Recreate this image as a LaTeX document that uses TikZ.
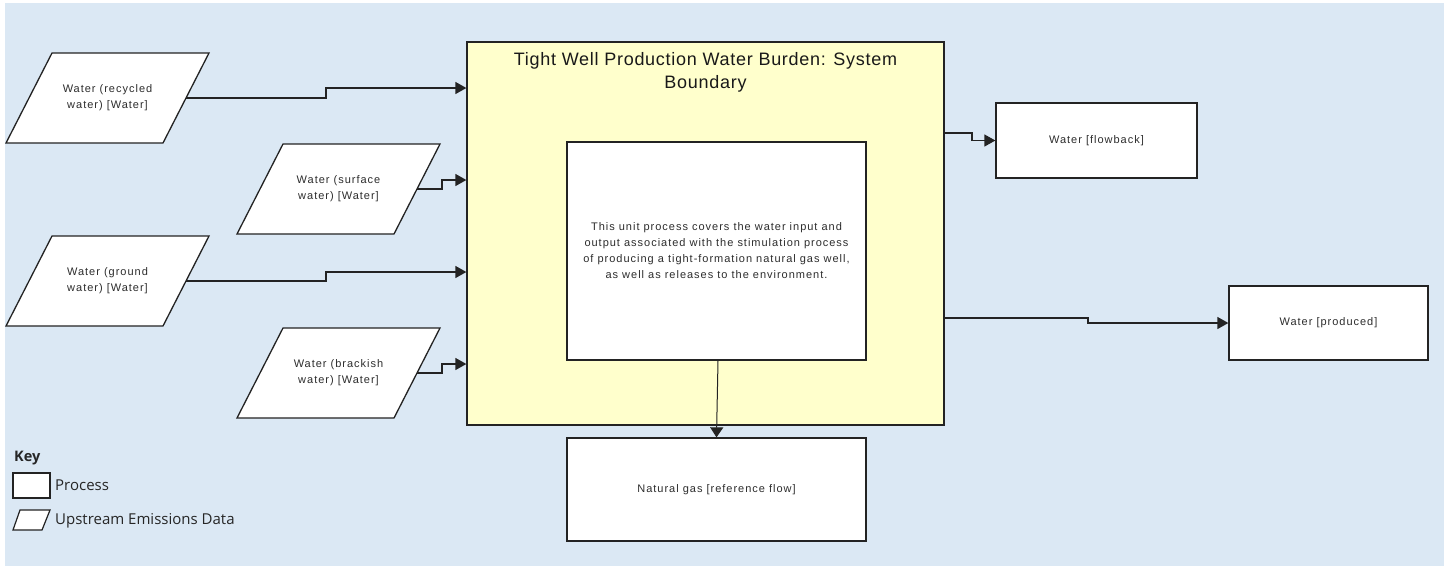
\documentclass[tikz,border=0pt]{standalone}
\usepackage{fontspec}
\setmainfont{Liberation Sans}
\newfontfamily\nodefont[LetterSpace=9]{Liberation Sans}
\newfontfamily\titlefont[LetterSpace=4]{Liberation Sans}
\newfontfamily\keyfont{Open Sans}
\usetikzlibrary{arrows.meta}
\definecolor{bgblue}{RGB}{219,232,244}
\definecolor{sysyellow}{RGB}{255,255,204}
\definecolor{edgegray}{RGB}{35,35,35}
\definecolor{txtgray}{RGB}{45,45,45}
\tikzset{
  shapeline/.style={draw=edgegray, line width=1.3pt, fill=white, line join=miter},
  pics/datashape/.style={code={\path[shapeline] (-55.5,-45) -- (101.5,-45) -- (55.5,45) -- (-101.5,45) -- cycle;}},
  datatext/.style={rectangle, minimum width=157pt, minimum height=90pt, inner sep=0pt,
    text=txtgray, align=center, font=\nodefont\fontsize{11}{16}\selectfont},
  procbox/.style={rectangle, draw=edgegray, line width=1.3pt, fill=white, inner sep=0pt,
    text=txtgray, align=center, font=\nodefont\fontsize{11}{16}\selectfont},
  flow/.style={draw=edgegray, line width=1.3pt, -{Triangle[length=11pt,width=12pt]}},
  thinflow/.style={draw=edgegray, line width=1pt, -{Triangle[length=10pt,width=13pt]}},
  keytext/.style={anchor=west, inner sep=0pt, font=\keyfont\fontsize{15}{18}\selectfont, text=black!85},
}
\begin{document}
\begin{tikzpicture}[x=1pt,y=-1pt]
\useasboundingbox (0,0) rectangle (1449,566);
\fill[bgblue] (5,3) rectangle (1444,566);

% system boundary
\node[rectangle, draw=edgegray, line width=1.3pt, fill=sysyellow, minimum width=477pt, minimum height=383pt, inner sep=0pt] (sys) at (705.5,233.5) {};
\node[anchor=north, inner sep=0pt, align=center, text=black!90, font=\titlefont\fontsize{18}{23}\selectfont] (title) at ([yshift=-11pt]sys.north) {Tight Well Production Water Burden: System\\Boundary};

% inner process
\node[procbox, minimum width=299pt, minimum height=218pt] (unit) at (716.5,251) {This unit process covers the water input and\\output associated with the stimulation process\\of producing a tight-formation natural gas well,\\as well as releases to the environment.};

% upstream data
\coordinate (c1) at (107.5,98);
\coordinate (c2) at (338.5,189);
\coordinate (c3) at (107.5,281);
\coordinate (c4) at (338.5,373);
\pic at (c1) {datashape};
\pic at (c2) {datashape};
\pic at (c3) {datashape};
\pic at (c4) {datashape};
\node[datatext] (p1) at (c1) {Water (recycled\\water) [Water]};
\node[datatext] (p2) at (c2) {Water (surface\\water) [Water]};
\node[datatext] (p3) at (c3) {Water (ground\\water) [Water]};
\node[datatext] (p4) at (c4) {Water (brackish\\water) [Water]};

% outputs
\node[procbox, minimum width=299pt, minimum height=103pt] (gas) at (716.5,489.5) {Natural gas [reference flow]};
\node[procbox, minimum width=201pt, minimum height=75pt] (flowback) at (1096.5,140.5) {Water [flowback]};
\node[procbox, minimum width=199pt, minimum height=74pt] (produced) at (1328.5,323) {Water [produced]};

% connectors
\coordinate (in1) at (sys.west |- 0,88);
\coordinate (in2) at (sys.west |- 0,180);
\coordinate (in3) at (sys.west |- 0,272);
\coordinate (in4) at (sys.west |- 0,364);
\coordinate (out1) at (sys.east |- 0,133);
\coordinate (out2) at (sys.east |- 0,318);
\draw[flow] (p1.east) -- (326,98 |- p1.east) -- (326,88) -- (in1);
\draw[flow] (p2.east) -- (442,189 |- p2.east) -- (442,180) -- (in2);
\draw[flow] (p3.east) -- (326,281 |- p3.east) -- (326,272) -- (in3);
\draw[flow] (p4.east) -- (442,373 |- p4.east) -- (442,364) -- (in4);
\draw[flow] (out1) -- (972,133) -- (972,140.5) -- (flowback.west);
\draw[flow] (out2) -- (1088,318) -- (1088,323) -- (produced.west);
\draw[thinflow] ([xshift=1.5pt]unit.south) -- (gas.north);

% key
\node[keytext, font=\keyfont\bfseries\fontsize{14.5}{18}\selectfont] (keytitle) at (14,458) {Key};
\node[rectangle, draw=edgegray, line width=1.2pt, fill=white, minimum width=37pt, minimum height=25pt, inner sep=0pt] (keyproc) at (31.5,485.5) {};
\node[keytext] (keyproclbl) at (55,485) {Process};
\path[shapeline, line width=1.2pt] (20,510) -- (50,510) -- (42,530) -- (13,530) -- cycle;
\node[keytext] (keydatalbl) at (55,521) {Upstream Emissions Data};
\end{tikzpicture}
\end{document}
